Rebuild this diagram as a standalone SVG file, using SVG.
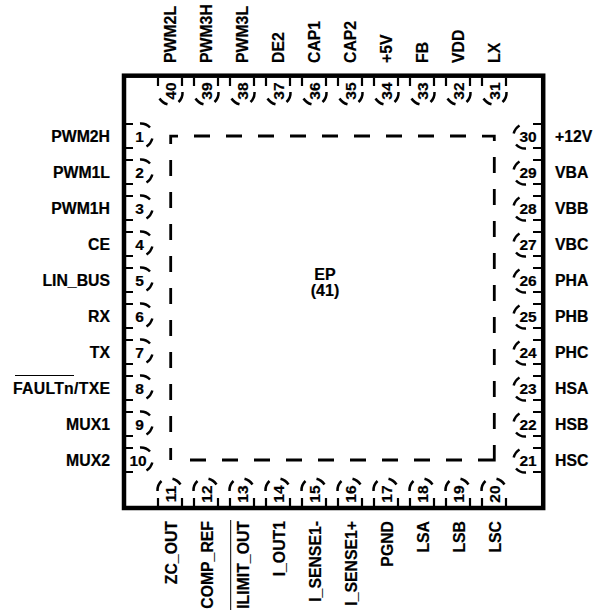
<svg xmlns="http://www.w3.org/2000/svg" width="594" height="611" viewBox="0 0 594 611">
<style>
text{font-family:"Liberation Sans",Arial,sans-serif;font-weight:700;fill:#000;stroke:#000;stroke-width:.2}
.l{font-size:15.8px}
.n{font-size:15.5px;text-anchor:middle}
.e{text-anchor:end}
.m{text-anchor:middle;font-size:16px}
.s{fill:none;stroke:#000;stroke-width:2.2}
.a{fill:none;stroke:#000;stroke-width:2.5}
.d{fill:none;stroke:#000;stroke-width:2.8}
.b{fill:none;stroke:#000;stroke-width:4.5}
</style>
<defs>
<path id="p" class="a" d="M1,-12.5A12.5,12.5 0 0 1 11,-8.5M13.3,2.5A13.5,13.5 0 0 1 7.5,10.5"/>
<path id="tl" class="s" d="M0,-12H8M0,12H8"/>
<path id="tr" class="s" d="M0,-12H-8M0,12H-8"/>
<path id="tt" class="s" d="M-12,0V8M12,0V8"/>
<path id="tb" class="s" d="M-12,0V-8M12,0V-8"/>
</defs>
<rect id="package" class="b" x="124" y="75.7" width="419.2" height="432.3"/>
<g id="exposed-pad">
<path class="d" d="M178,136.2H170.7V144M194,136h16M226,136h16M258,136h16M290,136h16M322,136h16M354,136h16M386,136h16M418,136h16M450,136h16M482,136.2H494.3V141M494.3,157v16M494.3,189v16M494.3,221v16M494.3,253v16M494.3,285v16M494.3,317v16M494.3,349v16M494.3,381v16M494.3,413v16M494.3,445V460H478M462,460h-16M430,460h-16M398,460h-16M366,460h-16M334,460h-16M302,460h-16M270,460h-16M238,460h-16M206,460h-16M170.7,448V460M170.7,432v-16M170.7,400v-16M170.7,368v-16M170.7,336v-16M170.7,304v-16M170.7,272v-16M170.7,240v-16M170.7,208v-16M170.7,176v-16"/>
<text class="m" x="325" y="280">EP</text>
<text class="m" x="325" y="296">(41)</text>
</g>
<g id="pins-left">
<g id="pin1"><use href="#tl" x="125" y="136"/><use href="#p" x="139" y="136"/><text class="n" x="139.5" y="141.5">1</text><text class="l e" x="110" y="141.5">PWM2H</text></g>
<g id="pin2"><use href="#tl" x="125" y="172"/><use href="#p" x="139" y="172"/><text class="n" x="139.5" y="177.5">2</text><text class="l e" x="110" y="177.5">PWM1L</text></g>
<g id="pin3"><use href="#tl" x="125" y="208"/><use href="#p" x="139" y="208"/><text class="n" x="139.5" y="213.5">3</text><text class="l e" x="110" y="213.5">PWM1H</text></g>
<g id="pin4"><use href="#tl" x="125" y="244"/><use href="#p" x="139" y="244"/><text class="n" x="139.5" y="249.5">4</text><text class="l e" x="110" y="249.5">CE</text></g>
<g id="pin5"><use href="#tl" x="125" y="280"/><use href="#p" x="139" y="280"/><text class="n" x="139.5" y="285.5">5</text><text class="l e" x="110" y="285.5">LIN_BUS</text></g>
<g id="pin6"><use href="#tl" x="125" y="316"/><use href="#p" x="139" y="316"/><text class="n" x="139.5" y="321.5">6</text><text class="l e" x="110" y="321.5">RX</text></g>
<g id="pin7"><use href="#tl" x="125" y="352"/><use href="#p" x="139" y="352"/><text class="n" x="139.5" y="357.5">7</text><text class="l e" x="110" y="357.5">TX</text></g>
<g id="pin8"><use href="#tl" x="125" y="388"/><use href="#p" x="139" y="388"/><text class="n" x="139.5" y="393.5">8</text><text class="l e" x="110" y="393.5" textLength="97" lengthAdjust="spacing">FAULTn/TXE</text><path d="M15,375.5H74" stroke="#000" stroke-width="1"/></g>
<g id="pin9"><use href="#tl" x="125" y="424"/><use href="#p" x="139" y="424"/><text class="n" x="139.5" y="429.5">9</text><text class="l e" x="110" y="429.5">MUX1</text></g>
<g id="pin10"><use href="#tl" x="125" y="460"/><use href="#p" x="139" y="460"/><text class="n" x="138" y="465.5">10</text><text class="l e" x="110" y="465.5">MUX2</text></g>
</g>
<g id="pins-bottom">
<g id="pin11"><use href="#tb" x="170" y="506"/><use href="#p" transform="translate(170,492) rotate(-90)"/><text class="n" transform="translate(170,494) rotate(-90)" y="5.5">11</text><text class="l e" transform="translate(177,521) rotate(-90)">ZC_OUT</text></g>
<g id="pin12"><use href="#tb" x="206" y="506"/><use href="#p" transform="translate(206,492) rotate(-90)"/><text class="n" transform="translate(206,494) rotate(-90)" y="5.5">12</text><text class="l e" transform="translate(213,521) rotate(-90)">COMP_REF</text></g>
<g id="pin13"><use href="#tb" x="242" y="506"/><use href="#p" transform="translate(242,492) rotate(-90)"/><text class="n" transform="translate(242,494) rotate(-90)" y="5.5">13</text><text class="l e" transform="translate(249,521) rotate(-90)">ILIMIT_OUT</text><path d="M230.7,520V610" stroke="#000" stroke-width="1"/></g>
<g id="pin14"><use href="#tb" x="278" y="506"/><use href="#p" transform="translate(278,492) rotate(-90)"/><text class="n" transform="translate(278,494) rotate(-90)" y="5.5">14</text><text class="l e" transform="translate(285,521) rotate(-90)">I_OUT1</text></g>
<g id="pin15"><use href="#tb" x="314" y="506"/><use href="#p" transform="translate(314,492) rotate(-90)"/><text class="n" transform="translate(314,494) rotate(-90)" y="5.5">15</text><text class="l e" transform="translate(321,521) rotate(-90)">I_SENSE1-</text></g>
<g id="pin16"><use href="#tb" x="350" y="506"/><use href="#p" transform="translate(350,492) rotate(-90)"/><text class="n" transform="translate(350,494) rotate(-90)" y="5.5">16</text><text class="l e" transform="translate(357,521) rotate(-90)">I_SENSE1+</text></g>
<g id="pin17"><use href="#tb" x="386" y="506"/><use href="#p" transform="translate(386,492) rotate(-90)"/><text class="n" transform="translate(386,494) rotate(-90)" y="5.5">17</text><text class="l e" transform="translate(393,521) rotate(-90)">PGND</text></g>
<g id="pin18"><use href="#tb" x="422" y="506"/><use href="#p" transform="translate(422,492) rotate(-90)"/><text class="n" transform="translate(422,494) rotate(-90)" y="5.5">18</text><text class="l e" transform="translate(429,521) rotate(-90)">LSA</text></g>
<g id="pin19"><use href="#tb" x="458" y="506"/><use href="#p" transform="translate(458,492) rotate(-90)"/><text class="n" transform="translate(458,494) rotate(-90)" y="5.5">19</text><text class="l e" transform="translate(465,521) rotate(-90)">LSB</text></g>
<g id="pin20"><use href="#tb" x="494" y="506"/><use href="#p" transform="translate(494,492) rotate(-90)"/><text class="n" transform="translate(494,494) rotate(-90)" y="5.5">20</text><text class="l e" transform="translate(501,521) rotate(-90)">LSC</text></g>
</g>
<g id="pins-right">
<g id="pin21"><use href="#tr" x="541" y="460"/><use href="#p" transform="translate(527,460) rotate(180)"/><text class="n" x="528" y="465.5">21</text><text class="l" x="555" y="465.5">HSC</text></g>
<g id="pin22"><use href="#tr" x="541" y="424"/><use href="#p" transform="translate(527,424) rotate(180)"/><text class="n" x="528" y="429.5">22</text><text class="l" x="555" y="429.5">HSB</text></g>
<g id="pin23"><use href="#tr" x="541" y="388"/><use href="#p" transform="translate(527,388) rotate(180)"/><text class="n" x="528" y="393.5">23</text><text class="l" x="555" y="393.5">HSA</text></g>
<g id="pin24"><use href="#tr" x="541" y="352"/><use href="#p" transform="translate(527,352) rotate(180)"/><text class="n" x="528" y="357.5">24</text><text class="l" x="555" y="357.5">PHC</text></g>
<g id="pin25"><use href="#tr" x="541" y="316"/><use href="#p" transform="translate(527,316) rotate(180)"/><text class="n" x="528" y="321.5">25</text><text class="l" x="555" y="321.5">PHB</text></g>
<g id="pin26"><use href="#tr" x="541" y="280"/><use href="#p" transform="translate(527,280) rotate(180)"/><text class="n" x="528" y="285.5">26</text><text class="l" x="555" y="285.5">PHA</text></g>
<g id="pin27"><use href="#tr" x="541" y="244"/><use href="#p" transform="translate(527,244) rotate(180)"/><text class="n" x="528" y="249.5">27</text><text class="l" x="555" y="249.5">VBC</text></g>
<g id="pin28"><use href="#tr" x="541" y="208"/><use href="#p" transform="translate(527,208) rotate(180)"/><text class="n" x="528" y="213.5">28</text><text class="l" x="555" y="213.5">VBB</text></g>
<g id="pin29"><use href="#tr" x="541" y="172"/><use href="#p" transform="translate(527,172) rotate(180)"/><text class="n" x="528" y="177.5">29</text><text class="l" x="555" y="177.5">VBA</text></g>
<g id="pin30"><use href="#tr" x="541" y="136"/><use href="#p" transform="translate(527,136) rotate(180)"/><text class="n" x="528" y="141.5">30</text><text class="l" x="555" y="141.5">+12V</text></g>
</g>
<g id="pins-top">
<g id="pin31"><use href="#tt" x="494" y="78"/><use href="#p" transform="translate(494,91) rotate(90)"/><text class="n" transform="translate(494,91) rotate(-90)" y="5.5">31</text><text class="l" transform="translate(500,63) rotate(-90)">LX</text></g>
<g id="pin32"><use href="#tt" x="458" y="78"/><use href="#p" transform="translate(458,91) rotate(90)"/><text class="n" transform="translate(458,91) rotate(-90)" y="5.5">32</text><text class="l" transform="translate(464,63) rotate(-90)">VDD</text></g>
<g id="pin33"><use href="#tt" x="422" y="78"/><use href="#p" transform="translate(422,91) rotate(90)"/><text class="n" transform="translate(422,91) rotate(-90)" y="5.5">33</text><text class="l" transform="translate(428,63) rotate(-90)">FB</text></g>
<g id="pin34"><use href="#tt" x="386" y="78"/><use href="#p" transform="translate(386,91) rotate(90)"/><text class="n" transform="translate(386,91) rotate(-90)" y="5.5">34</text><text class="l" transform="translate(392,63) rotate(-90)">+5V</text></g>
<g id="pin35"><use href="#tt" x="350" y="78"/><use href="#p" transform="translate(350,91) rotate(90)"/><text class="n" transform="translate(350,91) rotate(-90)" y="5.5">35</text><text class="l" transform="translate(356,63) rotate(-90)">CAP2</text></g>
<g id="pin36"><use href="#tt" x="314" y="78"/><use href="#p" transform="translate(314,91) rotate(90)"/><text class="n" transform="translate(314,91) rotate(-90)" y="5.5">36</text><text class="l" transform="translate(320,63) rotate(-90)">CAP1</text></g>
<g id="pin37"><use href="#tt" x="278" y="78"/><use href="#p" transform="translate(278,91) rotate(90)"/><text class="n" transform="translate(278,91) rotate(-90)" y="5.5">37</text><text class="l" transform="translate(284,63) rotate(-90)">DE2</text></g>
<g id="pin38"><use href="#tt" x="242" y="78"/><use href="#p" transform="translate(242,91) rotate(90)"/><text class="n" transform="translate(242,91) rotate(-90)" y="5.5">38</text><text class="l" transform="translate(248,63) rotate(-90)">PWM3L</text></g>
<g id="pin39"><use href="#tt" x="206" y="78"/><use href="#p" transform="translate(206,91) rotate(90)"/><text class="n" transform="translate(206,91) rotate(-90)" y="5.5">39</text><text class="l" transform="translate(212,63) rotate(-90)">PWM3H</text></g>
<g id="pin40"><use href="#tt" x="170" y="78"/><use href="#p" transform="translate(170,91) rotate(90)"/><text class="n" transform="translate(170,91) rotate(-90)" y="5.5">40</text><text class="l" transform="translate(176,63) rotate(-90)">PWM2L</text></g>
</g>
</svg>
